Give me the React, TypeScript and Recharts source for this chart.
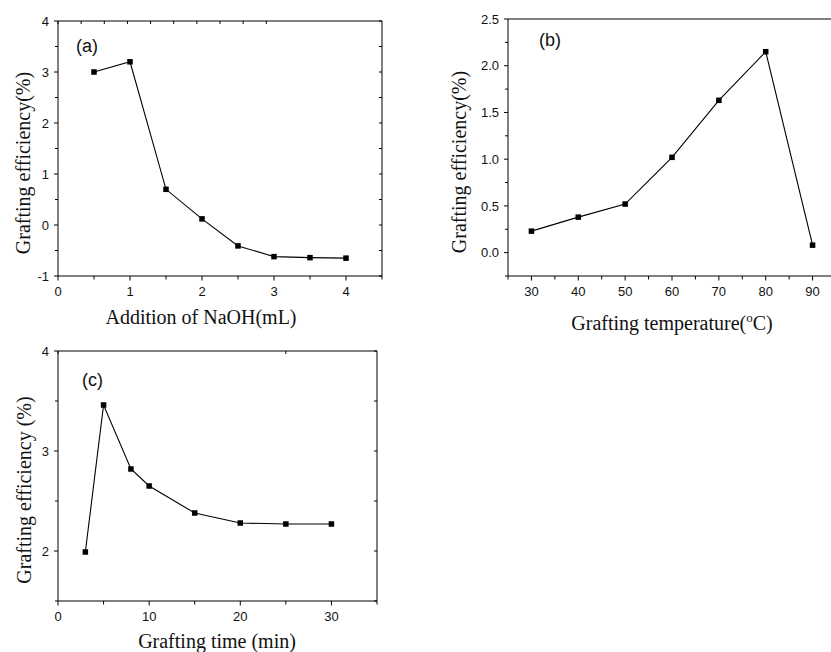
import { Label, Line, LineChart, XAxis, YAxis } from 'recharts'

// (a) NaOH addition
const naohAmount = [0.5, 1, 1.5, 2, 2.5, 3, 3.5, 4]
const naohEfficiency = [3.0, 3.2, 0.7, 0.12, -0.41, -0.62, -0.64, -0.65]
const naohXTicks = [0, 0.5, 1, 1.5, 2, 2.5, 3, 3.5, 4, 4.5]
const naohXLabels = [0, 1, 2, 3, 4]
const naohYTicks = [-1, -0.5, 0, 0.5, 1, 1.5, 2, 2.5, 3, 3.5, 4]
const naohYLabels = [-1, 0, 1, 2, 3, 4]

// (b) grafting temperature
const tempValues = [30, 40, 50, 60, 70, 80, 90]
const tempEfficiency = [0.23, 0.38, 0.52, 1.02, 1.63, 2.15, 0.08]
const tempXTicks = [25, 30, 35, 40, 45, 50, 55, 60, 65, 70, 75, 80, 85, 90, 95]
const tempXLabels = [30, 40, 50, 60, 70, 80, 90]
const tempYTicks = [-0.25, 0, 0.25, 0.5, 0.75, 1, 1.25, 1.5, 1.75, 2, 2.25, 2.5]
const tempYLabels = [0, 0.5, 1, 1.5, 2, 2.5]

// (c) grafting time
const timeValues = [3, 5, 8, 10, 15, 20, 25, 30]
const timeEfficiency = [1.99, 3.46, 2.82, 2.65, 2.38, 2.28, 2.27, 2.27]
const timeXTicks = [0, 5, 10, 15, 20, 25, 30, 35]
const timeXLabels = [0, 10, 20, 30]
const timeYTicks = [1.5, 2, 2.5, 3, 3.5, 4]
const timeYLabels = [2, 3, 4]

const SANS = '"Liberation Sans", Arial, sans-serif'
const SERIF = '"Liberation Serif", "Times New Roman", serif'
const INK = '#111'

const has = (list: number[], v: number) => list.some((l) => Math.abs(l - v) < 1e-9)

// tickSize/tickMargin are 0 on every axis, so x/y here sit right on the axis line
const bottomTick = (labels: number[], fmt: (v: number) => string) => (props: any) => {
  const { x, y, payload } = props
  const major = has(labels, payload.value)
  const len = major ? 4.5 : 3.5
  return (
    <g>
      <line x1={x} y1={y} x2={x} y2={y + len} stroke="#000" />
      {major && (
        <text x={x} y={y + 10.5} dy="0.71em" textAnchor="middle" fontFamily={SANS} fontSize={13} fill={INK}>
          {fmt(payload.value)}
        </text>
      )}
    </g>
  )
}

const leftTick = (labels: number[], fmt: (v: number) => string) => (props: any) => {
  const { x, y, payload } = props
  const major = has(labels, payload.value)
  const len = major ? 4 : 3
  return (
    <g>
      <line x1={x - len} y1={y} x2={x} y2={y} stroke="#000" />
      {major && (
        <text x={x - 9} y={y} dy="0.36em" textAnchor="end" fontFamily={SANS} fontSize={13} fill={INK}>
          {fmt(payload.value)}
        </text>
      )}
    </g>
  )
}

const topTick = (props: any) => {
  const { x, y } = props
  return <line x1={x} y1={y} x2={x} y2={y + 3} stroke="#000" />
}

const rightTick = (props: any) => {
  const { x, y } = props
  return <line x1={x - 3} y1={y} x2={x} y2={y} stroke="#000" />
}

const SquareDot = (props: any) => {
  const { cx, cy } = props
  if (cx == null || cy == null) return <g />
  return <rect x={cx - 2.75} y={cy - 2.75} width={5.5} height={5.5} fill="#000" />
}

interface PanelProps {
  left: number
  top: number
  width: number
  height: number
  margin: { top: number; right: number; bottom: number; left: number }
  yWidth: number
  xHeight: number
  xs: number[]
  ys: number[]
  xDomain: [number, number]
  yDomain: [number, number]
  xTicks: number[]
  xLabels: number[]
  yTicks: number[]
  yLabels: number[]
  yFmt: (v: number) => string
  xTitle: React.ReactNode
  xTitlePos: [number, number]
  yTitle: string
  yTitlePos: [number, number]
  tag: string
  tagPos: [number, number]
}

function Panel(p: PanelProps) {
  const data = p.xs.map((x, i) => ({ x, y: p.ys[i] }))
  return (
    <div style={{ position: 'absolute', left: p.left, top: p.top }}>
      <LineChart width={p.width} height={p.height} data={data} margin={p.margin}>
        <XAxis
          dataKey="x"
          type="number"
          domain={p.xDomain}
          ticks={p.xTicks}
          interval={0}
          allowDataOverflow
          height={p.xHeight}
          tickSize={0}
          tickMargin={0}
          tickLine={false}
          stroke="#000"
          tick={bottomTick(p.xLabels, (v) => String(v))}
        >
          <Label
            content={() => (
              <text x={p.xTitlePos[0]} y={p.xTitlePos[1]} textAnchor="middle" fontFamily={SERIF} fontSize={20} fill={INK}>
                {p.xTitle}
              </text>
            )}
          />
        </XAxis>
        <XAxis
          xAxisId="top"
          orientation="top"
          mirror
          type="number"
          domain={p.xDomain}
          ticks={p.xTicks}
          interval={0}
          allowDataOverflow
          tickSize={0}
          tickMargin={0}
          tickLine={false}
          stroke="#000"
          tick={topTick}
        >
          <Label
            content={() => (
              <text x={p.tagPos[0]} y={p.tagPos[1]} fontFamily={SANS} fontSize={18} fill={INK}>
                {p.tag}
              </text>
            )}
          />
        </XAxis>
        <YAxis
          type="number"
          domain={p.yDomain}
          ticks={p.yTicks}
          interval={0}
          allowDataOverflow
          width={p.yWidth}
          tickSize={0}
          tickMargin={0}
          tickLine={false}
          stroke="#000"
          tick={leftTick(p.yLabels, p.yFmt)}
        >
          <Label
            content={() => (
              <text
                x={p.yTitlePos[0]}
                y={p.yTitlePos[1]}
                transform={`rotate(-90 ${p.yTitlePos[0]} ${p.yTitlePos[1]})`}
                textAnchor="middle"
                fontFamily={SERIF}
                fontSize={20}
                fill={INK}
              >
                {p.yTitle}
              </text>
            )}
          />
        </YAxis>
        <YAxis
          yAxisId="right"
          orientation="right"
          mirror
          type="number"
          domain={p.yDomain}
          ticks={p.yTicks}
          interval={0}
          allowDataOverflow
          tickSize={0}
          tickMargin={0}
          tickLine={false}
          stroke="#000"
          tick={rightTick}
        />
        <Line
          type="linear"
          dataKey="y"
          stroke="#000"
          strokeWidth={1.1}
          dot={SquareDot}
          activeDot={false}
          isAnimationActive={false}
        />
      </LineChart>
    </div>
  )
}

export default function App() {
  return (
    <div
      style={{
        position: 'absolute',
        left: 0,
        top: 0,
        width: 831,
        height: 652,
        overflow: 'hidden',
        background: '#fff',
      }}
    >
      <Panel
        left={0}
        top={0}
        width={400}
        height={340}
        margin={{ top: 21, right: 18, bottom: 0, left: 0 }}
        yWidth={58}
        xHeight={64}
        xs={naohAmount}
        ys={naohEfficiency}
        xDomain={[0, 4.5]}
        yDomain={[-1, 4]}
        xTicks={naohXTicks}
        xLabels={naohXLabels}
        yTicks={naohYTicks}
        yLabels={naohYLabels}
        yFmt={(v) => String(v)}
        xTitle="Addition of NaOH(mL)"
        xTitlePos={[201, 324]}
        yTitle="Grafting efficiency(%)"
        yTitlePos={[30, 163]}
        tag="(a)"
        tagPos={[76, 52]}
      />
      <Panel
        left={420}
        top={0}
        width={420}
        height={340}
        margin={{ top: 19, right: 4, bottom: 0, left: 0 }}
        yWidth={88}
        xHeight={64}
        xs={tempValues}
        ys={tempEfficiency}
        xDomain={[25, 95]}
        yDomain={[-0.25, 2.5]}
        xTicks={tempXTicks}
        xLabels={tempXLabels}
        yTicks={tempYTicks}
        yLabels={tempYLabels}
        yFmt={(v) => v.toFixed(1)}
        xTitle={
          <>
            Grafting temperature(
            <tspan dy={-8} fontSize={13}>
              o
            </tspan>
            <tspan dy={8}>C)</tspan>
          </>
        }
        xTitlePos={[252, 330]}
        yTitle="Grafting efficiency(%)"
        yTitlePos={[46, 162]}
        tag="(b)"
        tagPos={[119, 46]}
      />
      <Panel
        left={0}
        top={330}
        width={400}
        height={322}
        margin={{ top: 21, right: 23, bottom: 0, left: 0 }}
        yWidth={58}
        xHeight={51}
        xs={timeValues}
        ys={timeEfficiency}
        xDomain={[0, 35]}
        yDomain={[1.5, 4]}
        xTicks={timeXTicks}
        xLabels={timeXLabels}
        yTicks={timeYTicks}
        yLabels={timeYLabels}
        yFmt={(v) => String(v)}
        xTitle="Grafting time (min)"
        xTitlePos={[217, 318]}
        yTitle="Grafting efficiency (%)"
        yTitlePos={[31, 160]}
        tag="(c)"
        tagPos={[82, 56]}
      />
    </div>
  )
}
